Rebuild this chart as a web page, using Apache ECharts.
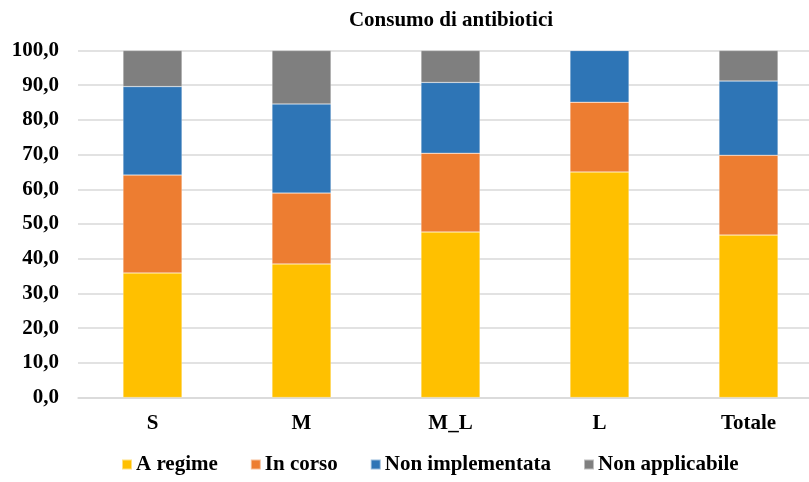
<!DOCTYPE html>
<html>
<head>
<meta charset="utf-8">
<script src="https://cdn.jsdelivr.net/npm/echarts@6/dist/echarts.min.js"></script>
<style>
  html, body { margin: 0; padding: 0; background: #fff; }
  #chart { width: 809px; height: 482px; }
</style>
</head>
<body>
<div id="chart"></div>
<script>
const categories = ['S', 'M', 'M_L', 'L', 'Totale'];
const aRegime = [35.9, 38.5, 47.7, 65.0, 46.8];
const inCorso = [28.2, 20.4, 22.7, 20.1, 23.0];
const nonImplementata = [25.5, 25.7, 20.4, 14.9, 21.4];
const nonApplicabile = [10.4, 15.4, 9.2, 0, 8.8];

const seriesNames = ['A regime', 'In corso', 'Non implementata', 'Non applicabile'];
const seriesColors = ['#FFC000', '#ED7D31', '#2E75B6', '#7F7F7F'];
const seriesValues = [aRegime, inCorso, nonImplementata, nonApplicabile];

const font = 'Liberation Serif';

const chart = echarts.init(document.getElementById('chart'));

chart.setOption({
  animation: false,
  title: {
    text: 'Consumo di antibiotici',
    left: 446,
    top: 5,
    textAlign: 'center',
    textStyle: { fontFamily: font, fontWeight: 'bold', fontSize: 21, color: '#000' }
  },
  legend: {
    bottom: 2,
    left: 116,
    itemWidth: 10,
    itemHeight: 10,
    itemGap: 32,
    icon: 'rect',
    textStyle: { fontFamily: font, fontWeight: 'bold', fontSize: 21, color: '#000', padding: [0, 0, 0, -1] },
    data: seriesNames
  },
  grid: { left: 78, width: 745, top: 50.5, bottom: 84.5, containLabel: false, outerBoundsMode: 'none' },
  xAxis: {
    type: 'category',
    data: categories,
    axisTick: { show: false },
    axisLine: { lineStyle: { color: '#D9D9D9', width: 1.5 } },
    axisLabel: { margin: 16, fontFamily: font, fontWeight: 'bold', fontSize: 21, color: '#000' }
  },
  yAxis: {
    type: 'value',
    min: 0,
    max: 100,
    interval: 10,
    axisLine: { show: false },
    axisTick: { show: false },
    splitLine: { lineStyle: { color: '#D9D9D9', width: 1.5 } },
    axisLabel: {
      margin: 19,
      fontFamily: font,
      fontWeight: 'bold',
      fontSize: 21,
      color: '#000',
      formatter: v => v.toFixed(1).replace('.', ',')
    }
  },
  series: seriesNames.map((name, i) => ({
    name: name,
    type: 'bar',
    stack: 'total',
    barWidth: 59,
    itemStyle: { color: seriesColors[i], borderColor: 'rgba(255,255,255,0.5)', borderWidth: 0.5 },
    data: seriesValues[i]
  }))
});
</script>
</body>
</html>
